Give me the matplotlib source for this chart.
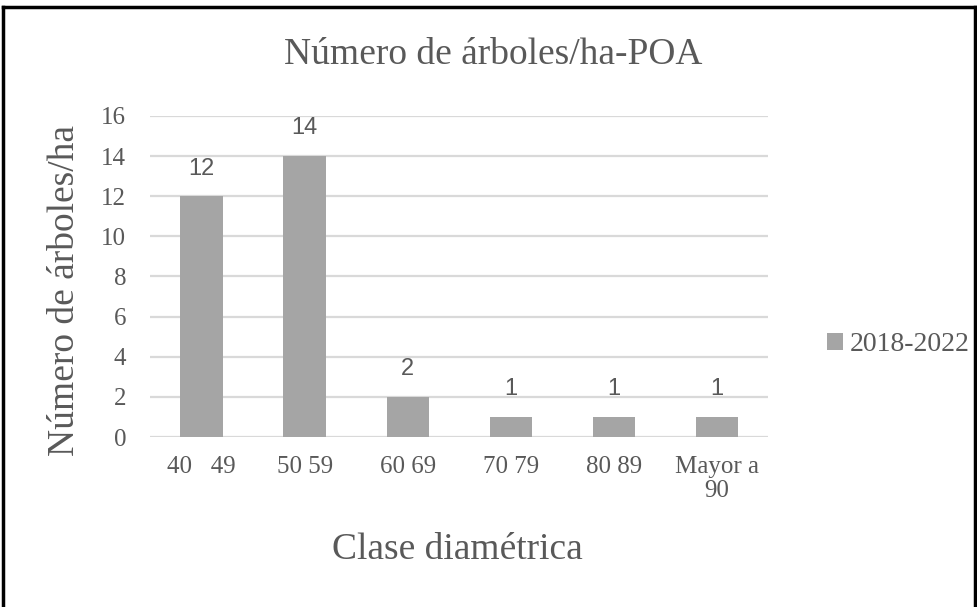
import matplotlib

matplotlib.use("Agg")
import matplotlib.pyplot as plt
from matplotlib.lines import Line2D
import numpy as np

categories = ["40   49", "50 59", "60 69", "70 79", "80 89", "Mayor a\n90"]
values = [12, 14, 2, 1, 1, 1]
series_name = "2018-2022"
y_ticks = [0, 2, 4, 6, 8, 10, 12, 14, 16]

TEXT = "#595959"
BAR = "#a5a5a5"
GRID = "#d9d9d9"
SERIF = "Liberation Serif"

fig = plt.figure(figsize=(9.77, 6.07), dpi=100)
ax = fig.add_axes([0.1535, 0.280, 0.633, 0.529])

x = np.arange(len(categories))
bars = ax.bar(x, values, width=0.41, color=BAR, label=series_name, zorder=3)
for rect, v in zip(bars, values):
    ax.annotate(
        f"{v}",
        (rect.get_x() + rect.get_width() / 2, v),
        xytext=(0, 12),
        textcoords="offset points",
        ha="center",
        va="bottom",
        fontsize=17,
        color=TEXT,
        family="Liberation Sans",
    )

ax.set_xlim(-0.5, len(categories) - 0.5)
ax.set_ylim(0, 16)
ax.set_yticks(y_ticks)
ax.set_xticks(x)
ax.set_xticklabels(categories, fontsize=18, color=TEXT, family=SERIF, linespacing=1.1)
ax.set_yticklabels([str(t) for t in y_ticks], fontsize=18, color=TEXT, family=SERIF)
ax.tick_params(axis="both", length=0)
ax.tick_params(axis="x", pad=14)
ax.tick_params(axis="y", pad=17)
for spine in ax.spines.values():
    spine.set_visible(False)
ax.yaxis.grid(True, color=GRID, linewidth=1.6, zorder=0)
ax.set_axisbelow(True)

fig.text(0.505, 0.909, "Número de árboles/ha-POA", ha="center", va="center",
         fontsize=27, color=TEXT, family=SERIF)
fig.text(0.066, 0.522, "Número de árboles/ha", ha="center", va="center",
         rotation=90, fontsize=27, color=TEXT, family=SERIF)
fig.text(0.468, 0.094, "Clase diamétrica", ha="center", va="center",
         fontsize=27, color=TEXT, family=SERIF)

leg = fig.legend(
    loc="center left",
    bbox_to_anchor=(0.832, 0.432),
    frameon=False,
    borderpad=0,
    prop={"family": SERIF, "size": 20},
    handlelength=0.58,
    handleheight=0.58,
    handletextpad=0.25,
)
for t in leg.get_texts():
    t.set_color(TEXT)

# outer frame (left, top, right)
frame = dict(color="black", linewidth=2.5, transform=fig.transFigure)
fig.add_artist(Line2D([0.003, 0.003], [0, 0.989], **frame))
fig.add_artist(Line2D([0.003, 0.998], [0.989, 0.989], **frame))
fig.add_artist(Line2D([0.998, 0.998], [0, 0.989], **frame))

fig.savefig("out.png", dpi=100)
